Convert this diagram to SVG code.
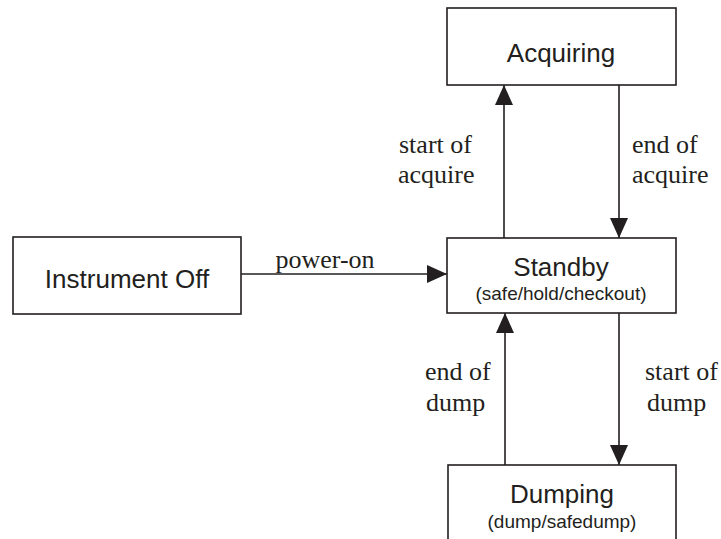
<svg xmlns="http://www.w3.org/2000/svg" width="721" height="539" viewBox="0 0 721 539">
<defs>
<marker id="arr" markerUnits="userSpaceOnUse" markerWidth="20" markerHeight="20" viewBox="0 0 20 18" refX="20" refY="9" orient="auto">
<path d="M0,0 L20,9 L0,18 Z" fill="#231f20"/>
</marker>
<style>
.box{fill:#fff;stroke:#231f20;stroke-width:1.6}
.ln{fill:none;stroke:#231f20;stroke-width:1.6;marker-end:url(#arr)}
.t{font-family:"Liberation Sans",Arial,sans-serif;font-size:26px;fill:#231f20;text-anchor:middle}
.s{font-family:"Liberation Sans",Arial,sans-serif;font-size:19px;fill:#231f20;text-anchor:middle}
.l{font-family:"Liberation Serif","Times New Roman",serif;font-size:26px;fill:#231f20}
</style>
</defs>
<rect width="721" height="539" fill="#fff"/>
<g id="connectors">
<line class="ln" x1="241" y1="274" x2="447" y2="274"/>
<line class="ln" x1="504" y1="238" x2="504" y2="85"/>
<line class="ln" x1="619" y1="85" x2="619" y2="238"/>
<line class="ln" x1="505" y1="465" x2="505" y2="313"/>
<line class="ln" x1="619" y1="313" x2="619" y2="465"/>
<text class="l" x="325" y="268" text-anchor="middle">power-on</text>
<text class="l" x="399" y="153">start of</text>
<text class="l" x="398" y="183">acquire</text>
<text class="l" x="632" y="153">end of</text>
<text class="l" x="632" y="183">acquire</text>
<text class="l" x="425" y="380">end of</text>
<text class="l" x="426" y="411">dump</text>
<text class="l" x="645" y="380">start of</text>
<text class="l" x="647" y="411">dump</text>
</g>
<g id="acquiring">
<rect class="box" x="447" y="8" width="229" height="77"/>
<text class="t" x="561" y="62">Acquiring</text>
</g>
<g id="instrument-off">
<rect class="box" x="13" y="237" width="228" height="77"/>
<text class="t" x="127" y="288">Instrument Off</text>
</g>
<g id="standby">
<rect class="box" x="447" y="238" width="229" height="75"/>
<text class="t" x="561" y="276">Standby</text>
<text class="s" x="561" y="300">(safe/hold/checkout)</text>
</g>
<g id="dumping">
<rect class="box" x="448" y="465" width="228" height="90"/>
<text class="t" x="562" y="503">Dumping</text>
<text class="s" x="562" y="528">(dump/safedump)</text>
</g>
</svg>
